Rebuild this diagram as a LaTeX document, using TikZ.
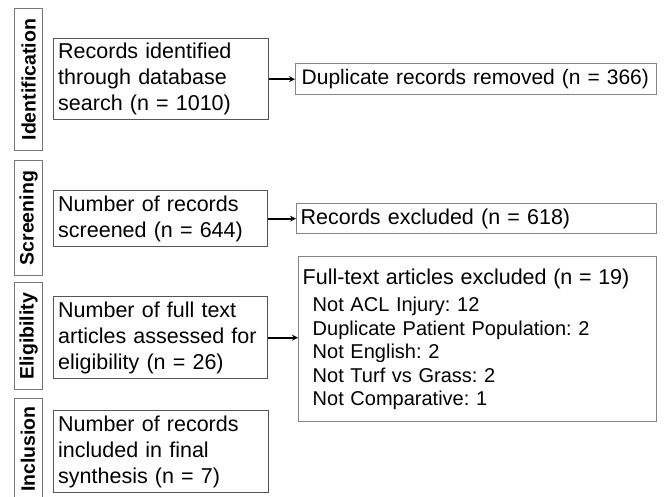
\documentclass[tikz,border=0pt]{standalone}
\usepackage{fontspec}
\setmainfont{Liberation Sans}
\usetikzlibrary{arrows.meta}
\definecolor{leftline}{HTML}{555555}
\definecolor{rightline}{HTML}{858585}
\definecolor{phaseline}{HTML}{777777}
\tikzset{
  mainbox/.style={draw=leftline, line width=1.4pt, rectangle, anchor=north west,
    inner xsep=4.5pt, inner ysep=0pt, align=left,
    font=\frenchspacing\fontsize{21.5}{26}\selectfont},
  sidebox/.style={draw=rightline, line width=1.4pt, rectangle, anchor=north west,
    inner xsep=4pt, inner ysep=0pt, align=left,
    font=\frenchspacing\fontsize{21.5}{26}\selectfont},
  phasebox/.style={draw=phaseline, line width=1.4pt, rectangle, anchor=north west,
    inner sep=0pt},
  phasetext/.style={rotate=90, font=\bfseries\fontsize{19.5}{22}\selectfont, inner sep=0pt},
  arr/.style={line width=1.7pt, -{Stealth[length=6pt,width=6pt]}}
}
\begin{document}
\begin{tikzpicture}[x=1pt,y=-1pt]
\clip (0,0) rectangle (665,497);
\fill[white] (0,0) rectangle (665,497);
% phase boxes
\node[phasebox, minimum width=28pt, minimum height=142pt] (pid) at (14,8) {};
\node[phasetext] (tid) at (pid.center) {Identification};
\node[phasebox, minimum width=28pt, minimum height=115pt] (psc) at (14,160) {};
\node[phasetext] (tsc) at (psc.center) {Screening};
\node[phasebox, minimum width=28pt, minimum height=107pt] (pel) at (14,282) {};
\node[phasetext] (tel) at (pel.center) {Eligibility};
\node[phasebox, minimum width=28pt, minimum height=120pt] (pin) at (14,398) {};
\node[phasetext, anchor=center] (tin) at (28,449) {Inclusion};
% main boxes
\node[mainbox, minimum width=215pt, minimum height=81pt, text width=206pt] (b1) at (53,38)
  {Records identified\\through database\\search (n = 1010)};
\node[mainbox, minimum width=214pt, minimum height=56pt, text width=205pt] (b2) at (53,190)
  {Number of records\\screened (n = 644)};
\node[mainbox, minimum width=214pt, minimum height=82pt, text width=205pt] (b3) at (53,296)
  {Number of full text\\articles assessed for\\eligibility (n = 26)};
\node[mainbox, minimum width=215pt, minimum height=82pt, text width=206pt] (b4) at (53,410)
  {Number of records\\included in final\\synthesis (n = 7)};
% side boxes
\node[sidebox, minimum width=361pt, minimum height=31pt, text width=349pt, inner xsep=6pt,
  font=\frenchspacing\fontsize{21}{25}\selectfont] (dup) at (295,63)
  {\mbox{Duplicate records removed (n = 366)}};
\node[sidebox, minimum width=360pt, minimum height=30pt, text width=352pt] (exc) at (296,203)
  {\mbox{Records excluded (n = 618)}};
\node[sidebox, minimum width=358pt, minimum height=165pt, text width=350pt,
  font=\frenchspacing\fontsize{20}{23.4}\selectfont] (full) at (298,256)
  {{\fontsize{21.5}{26}\selectfont Full-text articles excluded (n = 19)}\\[4pt]
   \hspace*{10pt}Not ACL Injury: 12\\
   \hspace*{10pt}Duplicate Patient Population: 2\\
   \hspace*{10pt}Not English: 2\\
   \hspace*{10pt}Not Turf vs Grass: 2\\
   \hspace*{10pt}Not Comparative: 1};
% arrows
\draw[arr] (b1.east) -- (b1.east -| dup.west);
\draw[arr] (b2.east) -- (b2.east -| exc.west);
\draw[arr] (b3.east) -- (b3.east -| full.west);
\end{tikzpicture}
\end{document}
